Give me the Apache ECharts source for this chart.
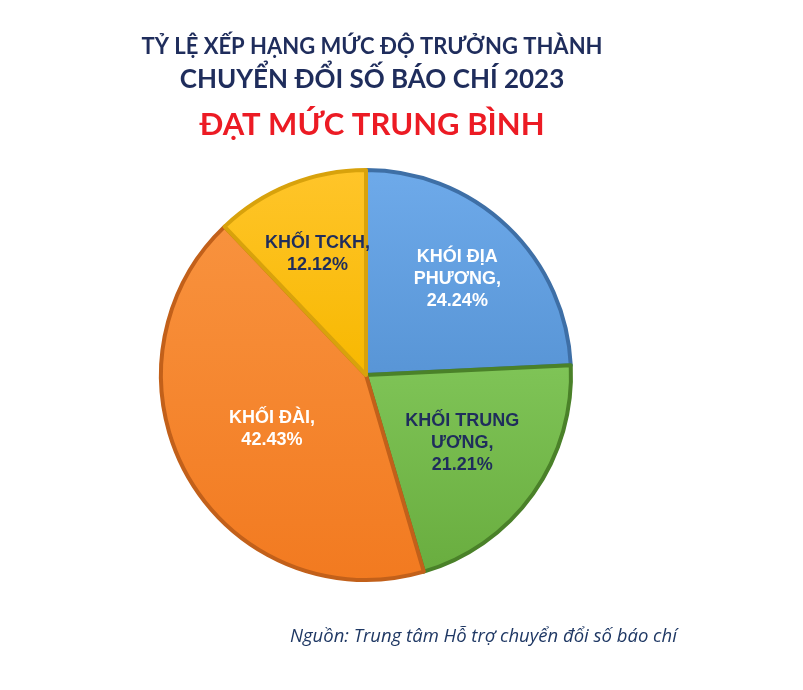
<!DOCTYPE html>
<html>
<head>
<meta charset="utf-8">
<script src="https://cdn.jsdelivr.net/npm/echarts@6/dist/echarts.min.js"></script>
<style>
  html, body { margin: 0; padding: 0; background: #fff; }
  #chart { width: 803px; height: 690px; }
</style>
</head>
<body>
<div id="chart"></div>
<script>
var categories = ['KHÓI ĐỊA\nPHƯƠNG', 'KHỐI TRUNG\nƯƠNG', 'KHỐI ĐÀI', 'KHỐI TCKH'];
var values = [24.24, 21.21, 42.43, 12.12];

var fillTop = ['#6eaaea', '#7fc457', '#f8923e', '#ffc52a'];
var fillBottom = ['#5895d6', '#69ad3f', '#f27a20', '#f7b800'];
var edgeColors = ['#3e6fa6', '#4a8129', '#c2601a', '#d8a20c'];
var labelColors = ['#ffffff', '#1f2d5c', '#ffffff', '#1f2d5c'];
var labelReach = [1.255, 1.12, 1.03, 1.235];

var cx = 366, cy = 375;

var chart = echarts.init(document.getElementById('chart'));

var option = {
  backgroundColor: '#ffffff',
  animation: false,
  title: [{
    text: 'TỶ LỆ XẾP HẠNG MỨC ĐỘ TRƯỞNG THÀNH',
    left: 367, top: 31, textAlign: 'center',
    textStyle: { fontFamily: 'Lato', fontWeight: 'bold', fontSize: 22, color: '#1f2d5c' }
  }, {
    text: 'CHUYỂN ĐỔI SỐ BÁO CHÍ 2023',
    left: 367, top: 62, textAlign: 'center',
    textStyle: { fontFamily: 'Lato', fontWeight: 'bold', fontSize: 26, color: '#1f2d5c' }
  }, {
    text: 'ĐẠT MỨC TRUNG BÌNH',
    left: 367, top: 104, textAlign: 'center',
    textStyle: { fontFamily: 'Lato', fontWeight: 'bold', fontSize: 31, color: '#ec1b24' }
  }, {
    text: 'Nguồn: Trung tâm Hỗ trợ chuyển đổi số báo chí',
    left: 285, top: 622,
    textStyle: { fontFamily: 'Open Sans', fontStyle: 'italic', fontWeight: 'normal', fontSize: 18.5, color: '#1f3864' }
  }],
  series: [{
    type: 'pie',
    center: [cx, cy],
    radius: [0, 205],
    startAngle: 90,
    clockwise: true,
    silent: true,
    label: {
      show: true,
      position: 'inside',
      fontFamily: 'Liberation Sans',
      fontWeight: 'bold',
      fontSize: 18,
      lineHeight: 22,
      formatter: function (p) {
        return p.name + ',\n' + p.value.toFixed(2) + '%';
      }
    },
    labelLine: { show: false },
    labelLayout: function (params) {
      var r = params.labelRect;
      var lx = r.x + r.width / 2;
      var ly = r.y + r.height / 2;
      var k = labelReach[params.dataIndex];
      return { x: cx + (lx - cx) * k, y: cy + (ly - cy) * k };
    },
    data: categories.map(function (name, i) {
      return {
        name: name,
        value: values[i],
        label: { color: labelColors[i] },
        itemStyle: {
          color: new echarts.graphic.LinearGradient(0, 0, 0, 1, [
            { offset: 0, color: fillTop[i] },
            { offset: 1, color: fillBottom[i] }
          ]),
          borderColor: edgeColors[i],
          borderWidth: 4
        }
      };
    })
  }]
};

chart.setOption(option);
</script>
</body>
</html>
